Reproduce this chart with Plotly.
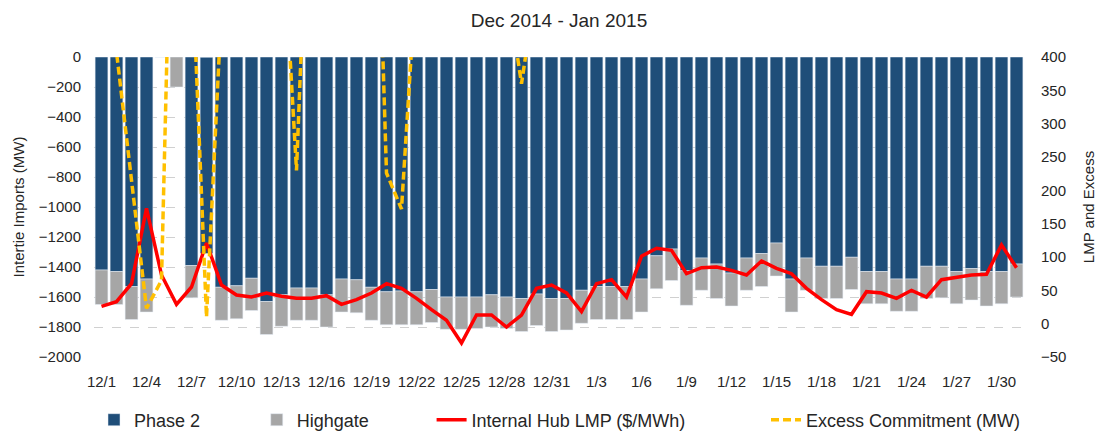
import plotly.graph_objects as go

# days Dec 1 2014 .. Jan 31 2015
days = [f"12/{d}" for d in range(1, 32)] + [f"1/{d}" for d in range(1, 32)]

phase2 = [
    -1420, -1430, -1530, -1480, 0, 0, -1390, -1310, -1535, -1525,
    -1475, -1630, -1585, -1540, -1540, -1585, -1480, -1485, -1535, -1565,
    -1560, -1565, -1550, -1600, -1600, -1600, -1585, -1600, -1610, -1580,
    -1610,
    -1610, -1555, -1530, -1530, -1530, -1480, -1325, -1280, -1425, -1340,
    -1380, -1440, -1340, -1310, -1240, -1480, -1340, -1395, -1395, -1335,
    -1430, -1430, -1480, -1480, -1395, -1395, -1430, -1410, -1430, -1430,
    -1380,
]

highgate = [
    -230, -220, -220, -220, 0, -200, -215, 0, -220, -220,
    -215, -220, -210, -215, -215, -215, -220, -220, -220, -220,
    -225, -220, -220, -215, -215, -210, -215, -210, -220, -210,
    -220,
    -210, -220, -220, -220, -220, -220, -220, -210, -230, -215,
    -230, -220, -215, -220, -220, -220, -215, -215, -215, -215,
    -215, -215, -215, -215, -215, -210, -215, -210, -230, -215,
    -220,
]

lmp = [
    26, 33, 60, 173, 73, 29, 55, 121, 58, 43,
    40, 46, 41, 38, 38, 42, 29, 36, 46, 60,
    53, 38, 21, 5, -29, 13, 13, -5, 13, 53,
    58,
    46, 18, 60, 66, 40, 101, 113, 110, 75, 84,
    85, 80, 73, 94, 83, 75, 53, 36, 21, 14,
    48, 46, 38, 50, 40, 66, 70, 73, 74, 118,
    84,
]

excess = [
    600, 405, 215, 23, 65, 1000, 560, 10, 475, 800,
    900, 850, 625, 230, 800, 900, 900, 900, 950, 226,
    172, 530, 800, 850, 900, 850, 700, 510, 360, 510,
    700,
    800, 850, 900, 900, 850, 900, 950, 900, 850, 900,
    900, 850, 900, 950, 900, 850, 900, 900, 950, 900,
    850, 900, 900, 850, 900, 900, 850, 900, 900, 850,
    900,
]

tick_labels = days[::3]

fig = go.Figure()
fig.add_trace(go.Bar(x=days, y=phase2, name='Phase 2', marker_color='#1F4E79',
                     legend='legend', showlegend=True))
fig.add_trace(go.Bar(x=days, y=highgate, name='Highgate', marker_color='#A6A6A6',
                     legend='legend2', showlegend=True))
fig.add_trace(go.Scatter(x=days, y=lmp, name='Internal Hub LMP ($/MWh)', yaxis='y2',
                         mode='lines', line=dict(color='#FF0000', width=3.5),
                         legend='legend3', showlegend=True))
fig.add_trace(go.Scatter(x=days, y=excess, name='Excess Commitment (MW)', yaxis='y2',
                         mode='lines', line=dict(color='#FFC000', width=3.5, dash='8px,4px'),
                         legend='legend4', showlegend=True))

font = 'Liberation Sans, Arial, sans-serif'


def leg(x):
    return dict(orientation='h', x=x, xanchor='left', y=-0.21, yanchor='middle',
                font=dict(size=18, color='#262626'), bgcolor='rgba(0,0,0,0)')


# page body has an 8px margin, so the figure is a bit smaller than the window
fig.update_layout(
    width=1095,
    height=426,
    showlegend=True,
    barmode='relative',
    bargap=0.15,
    paper_bgcolor='white',
    plot_bgcolor='white',
    font=dict(family=font, size=15, color='#262626'),
    margin=dict(l=86, r=79, t=49, b=77, autoexpand=False),
    title=dict(text='Dec 2014 - Jan 2015', x=0.5, xref='paper', y=0.9718, yref='container',
               yanchor='middle', pad=dict(t=0, b=0), font=dict(size=19, color='#262626')),
    xaxis=dict(type='category', tickmode='array', tickvals=tick_labels, ticktext=tick_labels,
               showgrid=False, showline=False, ticks='', ticklabelstandoff=14,
               automargin=False, tickfont=dict(size=15)),
    yaxis=dict(range=[-2000, 0], dtick=200, showgrid=True, gridcolor='#D0D0D0',
               griddash='dash', zeroline=False, showline=False, ticks='',
               ticklabelstandoff=12, automargin=False,
               title=dict(text='Intertie Imports (MW)', font=dict(size=15), standoff=10),
               tickfont=dict(size=15)),
    yaxis2=dict(range=[-50, 400], dtick=50, overlaying='y', side='right', showgrid=False,
                zeroline=False, showline=False, ticks='', ticklabelstandoff=16,
                automargin=False,
                title=dict(text='LMP and Excess', font=dict(size=15), standoff=18),
                tickfont=dict(size=15)),
    legend=leg(0.0),
    legend2=leg(0.175),
    legend3=leg(0.363),
    legend4=leg(0.7226),
)

fig.write_html("out.html")
